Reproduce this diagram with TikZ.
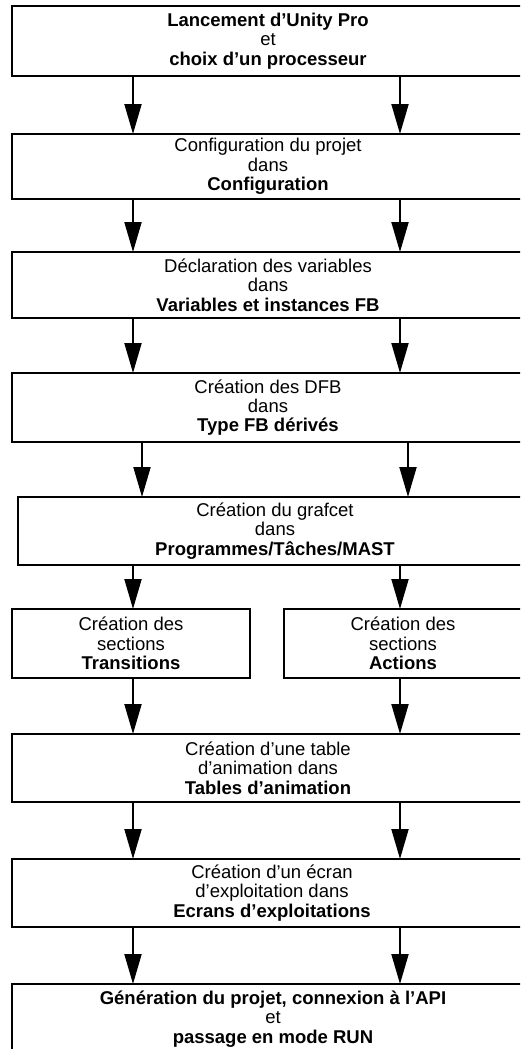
\documentclass[tikz,border=0pt]{standalone}
\usepackage{fontspec}
\setmainfont{Liberation Sans}
\usetikzlibrary{arrows.meta}
\tikzset{
  box/.style={draw=black, line width=2pt, rectangle, anchor=north west, inner sep=0pt,
    align=center, font=\fontsize{18.5}{19.3}\selectfont},
  arr/.style={line width=2pt, -{Triangle[width=17pt,length=30pt]}, shorten >=-1pt}
}
\begin{document}
\begin{tikzpicture}[x=1pt,y=-1pt]
\useasboundingbox[fill=white] (0,0) rectangle (520,1049);
\clip (0,0) rectangle (520,1049);
\coordinate (xl) at (133,0);
\coordinate (xr) at (400,0);
\coordinate (xl2) at (142,0);
\coordinate (xr2) at (408,0);
\node[box, minimum width=512pt, minimum height=70pt] (b1) at (11,5)
  {\textbf{Lancement d’Unity Pro}\\et\\\textbf{choix d’un processeur}};
\node[box, minimum width=512pt, minimum height=65pt] (b2) at (11,133)
  {Configuration du projet\\dans\\\textbf{Configuration}};
\node[box, minimum width=512pt, minimum height=66pt] (b3) at (11,251)
  {Déclaration des variables\\dans\\\textbf{Variables et instances FB}};
\node[box, minimum width=512pt, minimum height=69pt] (b4) at (11,372)
  {Création des DFB\\dans\\\textbf{Type FB dérivés}};
\node[box, minimum width=514pt, minimum height=68pt] (b5) at (17,496)
  {Création du grafcet\\dans\\\textbf{Programmes/Tâches/MAST}};
\node[box, minimum width=238pt, minimum height=69pt] (b6a) at (11,608)
  {Création des\\sections\\\textbf{Transitions}};
\node[box, minimum width=238pt, minimum height=69pt] (b6b) at (283,608)
  {Création des\\sections\\\textbf{Actions}};
\node[box, minimum width=512pt, minimum height=68pt] (b7) at (11,733)
  {Création d’une table\\d’animation dans\\\textbf{Tables d’animation}};
\node[box, minimum width=520pt, minimum height=68pt] (b8) at (11,858)
  {Création d’un écran\\d’exploitation dans\\\textbf{Ecrans d’exploitations}};
\node[box, minimum width=522pt, minimum height=70pt] (b9) at (11,983)
  {\textbf{Génération du projet, connexion à l’API}\\et\\\textbf{passage en mode RUN}};
\draw[arr] (b1.south -| xl) -- (b2.north -| xl);
\draw[arr] (b1.south -| xr) -- (b2.north -| xr);
\draw[arr] (b2.south -| xl) -- (b3.north -| xl);
\draw[arr] (b2.south -| xr) -- (b3.north -| xr);
\draw[arr] (b3.south -| xl) -- (b4.north -| xl);
\draw[arr] (b3.south -| xr) -- (b4.north -| xr);
\draw[arr] (b4.south -| xl2) -- (b5.north -| xl2);
\draw[arr] (b4.south -| xr2) -- (b5.north -| xr2);
\draw[arr] (b5.south -| xl) -- (b6a.north -| xl);
\draw[arr] (b5.south -| xr) -- (b6b.north -| xr);
\draw[arr] (b6a.south -| xl) -- (b7.north -| xl);
\draw[arr] (b6b.south -| xr) -- (b7.north -| xr);
\draw[arr] (b7.south -| xl) -- (b8.north -| xl);
\draw[arr] (b7.south -| xr) -- (b8.north -| xr);
\draw[arr] (b8.south -| xl) -- (b9.north -| xl);
\draw[arr] (b8.south -| xr) -- (b9.north -| xr);
\end{tikzpicture}
\end{document}
